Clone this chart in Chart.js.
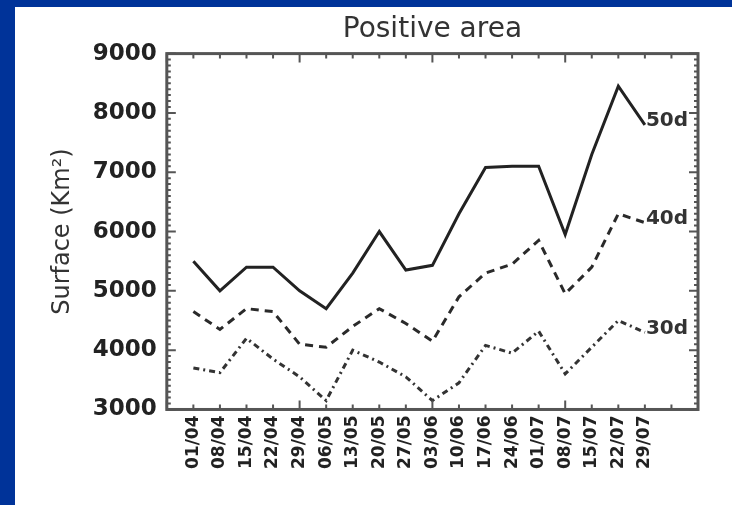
<!DOCTYPE html>
<html>
<head>
<meta charset="utf-8">
<script src="https://cdn.jsdelivr.net/npm/chart.js@4.4.1/dist/chart.umd.min.js"></script>
<style>
  html, body { margin: 0; padding: 0; background: #003399; }
  .sheet { position: absolute; left: 15px; top: 7px; width: 717px; height: 498px; background: #fff; }
  canvas { display: block; }
</style>
</head>
<body>
<div class="sheet"><canvas id="chart" width="717" height="498"></canvas></div>
<script>
var dates = ['01/04', '08/04', '15/04', '22/04', '29/04', '06/05', '13/05', '20/05', '27/05',
             '03/06', '10/06', '17/06', '24/06', '01/07', '08/07', '15/07', '22/07', '29/07']
var seriesNames = ['50d', '40d', '30d']
var area50 = [5500, 5000, 5400, 5400, 5000, 4700, 5300, 6000, 5350, 5430, 6300, 7080, 7100, 7100, 5950, 7300, 8450, 7800]
var area40 = [4650, 4350, 4700, 4650, 4100, 4050, 4400, 4700, 4450, 4150, 4900, 5300, 5450, 5850, 4950, 5400, 6300, 6150]
var area30 = [3700, 3620, 4200, 3850, 3550, 3150, 4000, 3800, 3550, 3150, 3450, 4080, 3950, 4320, 3600, 4050, 4500, 4300]
var yTicks = [3000, 4000, 5000, 6000, 7000, 8000, 9000]

function points(vals){
    return vals.map(function(v, i){ return {x: i, y: v} })
}

// frame with inward ticks on all four sides, like the IDL plot
var frame = {
    id: 'frame',
    afterDatasetsDraw: function(chart){
        var ctx = chart.ctx, a = chart.chartArea
        var xs = chart.scales.x, ys = chart.scales.y
        ctx.save()
        ctx.strokeStyle = '#555'
        ctx.lineWidth = 2
        for (var v = 3000; v <= 9000; v += 100) {
            var py = ys.getPixelForValue(v)
            var len = v % 1000 === 0 ? 9 : 4
            ctx.beginPath()
            ctx.moveTo(a.left, py); ctx.lineTo(a.left + len, py)
            ctx.moveTo(a.right, py); ctx.lineTo(a.right - len, py)
            ctx.stroke()
        }
        for (var i = -1; i <= 19; i++) {
            var px = xs.getPixelForValue(i)
            var l = (i + 1) % 5 === 0 ? 9 : 5
            ctx.beginPath()
            ctx.moveTo(px, a.bottom); ctx.lineTo(px, a.bottom - l)
            ctx.moveTo(px, a.top); ctx.lineTo(px, a.top + l)
            ctx.stroke()
        }
        ctx.lineWidth = 3
        ctx.strokeRect(a.left, a.top, a.right - a.left, a.bottom - a.top)

        // series names at the end of each line
        ctx.font = 'bold 20px "DejaVu Sans"'
        ctx.fillStyle = '#333'
        ctx.textAlign = 'left'
        ctx.textBaseline = 'middle'
        chart.data.datasets.forEach(function(ds, k){
            var meta = chart.getDatasetMeta(k)
            var last = meta.data[meta.data.length - 1]
            ctx.fillText(ds.label, last.x + 1, last.y - 4)
        })
        ctx.restore()
    }
}

new Chart(document.getElementById('chart').getContext('2d'), {
    type: 'line',
    data: {
        datasets: [
            { label: seriesNames[0], data: points(area50), borderColor: '#222', borderWidth: 3 },
            { label: seriesNames[1], data: points(area40), borderColor: '#2a2a2a', borderWidth: 3, borderDash: [8, 6] },
            { label: seriesNames[2], data: points(area30), borderColor: '#333', borderWidth: 3, borderDash: [6, 4, 2, 4] }
        ]
    },
    options: {
        responsive: false,
        animation: false,
        layout: { padding: { left: 18, right: 34, top: 0, bottom: 30 } },
        elements: { point: { radius: 0 }, line: { tension: 0 } },
        plugins: {
            legend: { display: false },
            tooltip: { enabled: false },
            title: {
                display: true,
                text: 'Positive area',
                fullSize: false,
                color: '#333',
                font: { family: 'DejaVu Sans', size: 28, weight: 'normal' },
                padding: { top: 6, bottom: 7 }
            }
        },
        scales: {
            x: {
                type: 'linear',
                min: -1,
                max: 19,
                grid: { display: false, drawTicks: false },
                border: { display: false },
                ticks: {
                    stepSize: 1,
                    autoSkip: false,
                    maxRotation: 90,
                    minRotation: 90,
                    padding: 6,
                    color: '#222',
                    font: { family: 'DejaVu Sans', size: 17, weight: 'bold' },
                    callback: function(v){ return dates[v] !== undefined ? dates[v] : '' }
                }
            },
            y: {
                min: 3000,
                max: 9000,
                afterBuildTicks: function(s){ s.ticks = yTicks.map(function(v){ return {value: v} }) },
                grid: { display: false, drawTicks: false },
                border: { display: false },
                ticks: {
                    padding: 10,
                    color: '#222',
                    font: { family: 'DejaVu Sans', size: 23, weight: 'bold' },
                    callback: function(v){ return String(v) }
                },
                title: {
                    display: true,
                    text: 'Surface (Km²)',
                    color: '#333',
                    font: { family: 'DejaVu Sans', size: 24, weight: 'normal' },
                    padding: { top: 15, bottom: 6 }
                }
            }
        }
    },
    plugins: [frame]
})
</script>
</body>
</html>
